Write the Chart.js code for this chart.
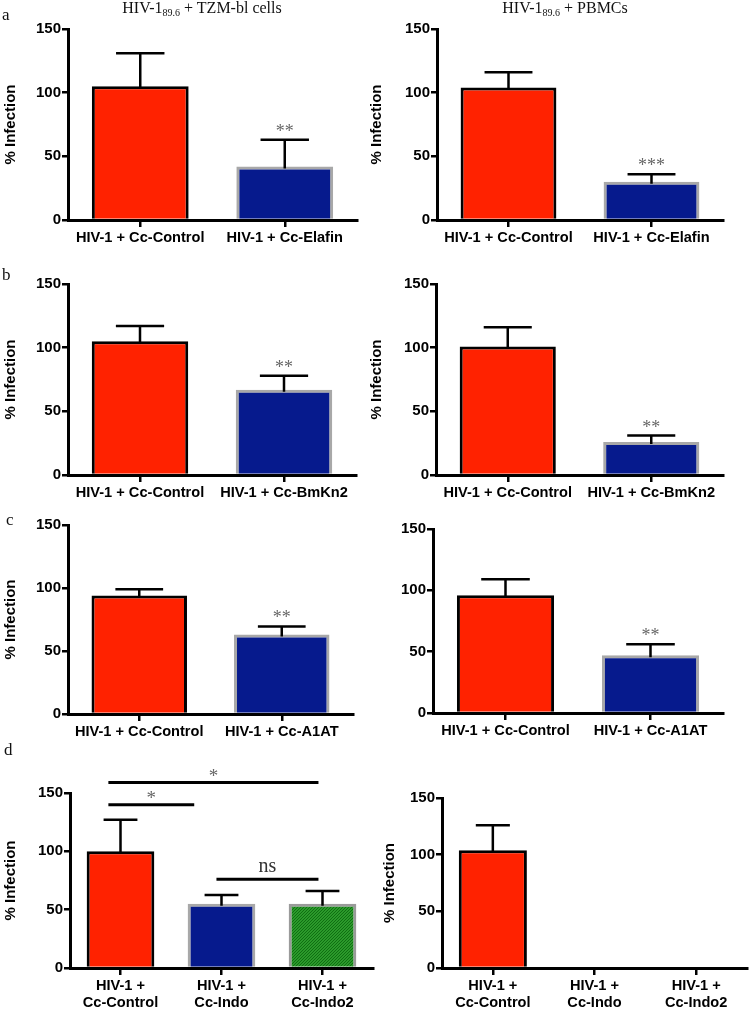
<!DOCTYPE html>
<html>
<head>
<meta charset="utf-8">
<script src="https://cdn.jsdelivr.net/npm/chart.js@4.4.0/dist/chart.umd.min.js"></script>
<style>
  html, body { margin: 0; padding: 0; background: #fff; }
  #page { position: relative; width: 750px; height: 1011px; overflow: hidden; }
  #page canvas { position: absolute; }
  .hdr {
    position: absolute; top: 0; transform: translateX(-50%);
    font-family: "Liberation Serif", "Times New Roman", serif;
    font-size: 16px; line-height: 16px; white-space: nowrap; color: #111; z-index: 2;
  }
  .hdr sub { font-size: 10px; vertical-align: -3px; line-height: 0; }
  .letter {
    position: absolute; font-family: "Liberation Serif", "Times New Roman", serif;
    font-size: 17px; line-height: 17px; color: #111; z-index: 2;
  }
</style>
</head>
<body>
<div id="page">
  <div class="hdr" style="left:202px">HIV-1<sub>89.6</sub> + TZM-bl cells</div>
  <div class="hdr" style="left:565px">HIV-1<sub>89.6</sub> + PBMCs</div>
  <div class="letter" style="left:2px;top:6px">a</div>
  <div class="letter" style="left:2px;top:266px">b</div>
  <div class="letter" style="left:6px;top:511px">c</div>
  <div class="letter" style="left:4px;top:741px">d</div>
</div>
<script>
// ---- data ----
const labelsA = ["HIV-1 + Cc-Control", "HIV-1 + Cc-Elafin"];
const labelsB = ["HIV-1 + Cc-Control", "HIV-1 + Cc-BmKn2"];
const labelsC = ["HIV-1 + Cc-Control", "HIV-1 + Cc-A1AT"];
const labelsD = [["HIV-1 +", "Cc-Control"], ["HIV-1 +", "Cc-Indo"], ["HIV-1 +", "Cc-Indo2"]];
const yTicks = [0, 50, 100, 150];

const meanATzm = [105, 42];
const semATzm = [26, 21];
const starsATzm = [null, "**"];
const meanAPbmc = [104, 30];
const semAPbmc = [12, 6];
const starsAPbmc = [null, "***"];

const meanBTzm = [105, 67];
const semBTzm = [12, 11];
const starsBTzm = [null, "**"];
const meanBPbmc = [101, 26];
const semBPbmc = [15, 5];
const starsBPbmc = [null, "**"];

const meanCTzm = [94, 63];
const semCTzm = [5, 6.5];
const starsCTzm = [null, "**"];
const meanCPbmc = [96, 47];
const semCPbmc = [13, 9];
const starsCPbmc = [null, "**"];

const meanDTzm = [100, 55, 55];
const semDTzm = [27, 7.5, 11];
const meanDPbmc = [104, null, null];
const semDPbmc = [22, null, null];

// significance brackets for panel d (category index span, value, text)
const sigFrom = [-0.12, -0.12, 0.95];
const sigTo = [0.73, 1.96, 1.96];
const sigValue = [140, 159, 76];
const sigText = ["*", "*", "ns"];

// ---- styles ----
const SANS = '"Liberation Sans", Arial, sans-serif';
const SERIF = '"Liberation Serif", "Times New Roman", serif';
const RED = "#ff2200";
const BLUE = "#061a8d";

function greenPattern() {
  const c = document.createElement("canvas");
  c.width = 3; c.height = 3;
  const g = c.getContext("2d");
  g.fillStyle = "#2b9a2b";
  g.fillRect(0, 0, 3, 3);
  g.fillStyle = "#0f6e12";
  g.fillRect(0, 0, 1, 1);
  g.fillRect(2, 1, 1, 1);
  g.fillRect(1, 2, 1, 1);
  return g.createPattern(c, "repeat");
}

const fills3 = [RED, BLUE, greenPattern()];
const edges3 = ["#000", "#a8a8a8", "#9a9a9a"];

function makeErrorPlugin(sem, stars, sig) {
  return {
    id: "errBars",
    afterDatasetsDraw(chart) {
      const { ctx, scales: { x, y } } = chart;
      const meta = chart.getDatasetMeta(0);
      const data = chart.data.datasets[0].data;
      ctx.save();
      ctx.strokeStyle = "#000";
      ctx.lineWidth = 2.5;
      sem.forEach((s, i) => {
        const m = data[i];
        if (m == null || s == null) return;
        const xc = x.getPixelForValue(i);
        const y0 = y.getPixelForValue(m);
        const y1 = y.getPixelForValue(m + s);
        const half = meta.data[i].width * 0.25;
        ctx.beginPath();
        ctx.moveTo(xc, y0 + 2);
        ctx.lineTo(xc, y1);
        ctx.moveTo(xc - half, y1);
        ctx.lineTo(xc + half, y1);
        ctx.stroke();
        if (stars && stars[i]) {
          ctx.fillStyle = "#666";
          ctx.font = "18px " + SERIF;
          ctx.textAlign = "center";
          ctx.textBaseline = "alphabetic";
          ctx.fillText(stars[i], xc, y1 - 3);
        }
      });
      if (sig) {
        sig.value.forEach((v, k) => {
          const xa = x.getPixelForValue(sig.from[k]);
          const xb = x.getPixelForValue(sig.to[k]);
          const yy = y.getPixelForValue(v);
          ctx.lineWidth = 3;
          ctx.beginPath();
          ctx.moveTo(xa, yy);
          ctx.lineTo(xb, yy);
          ctx.stroke();
          const t = sig.text[k];
          ctx.textAlign = "center";
          ctx.textBaseline = "alphabetic";
          if (t === "ns") {
            ctx.fillStyle = "#333";
            ctx.font = "20px " + SERIF;
            ctx.fillText(t, (xa + xb) / 2, yy - 7);
          } else {
            ctx.fillStyle = "#666";
            ctx.font = "19px " + SERIF;
            ctx.fillText(t, (xa + xb) / 2, yy - 1);
          }
        });
      }
      ctx.restore();
    }
  };
}

function makePanel(g, labels, means, sem, stars, sig, showTitle) {
  const page = document.getElementById("page");
  const cv = document.createElement("canvas");
  const W = g.cw;
  const H = g.cb - g.ct;
  cv.width = W; cv.height = H;
  cv.style.left = g.cl + "px";
  cv.style.top = g.ct + "px";
  cv.style.width = W + "px";
  cv.style.height = H + "px";
  page.appendChild(cv);

  const n = labels.length;
  const xFont = { family: SANS, size: 14.6, weight: "bold" };
  const yFont = { family: SANS, size: 15, weight: "bold" };

  new Chart(cv, {
    type: "bar",
    data: {
      labels: labels,
      datasets: [{
        data: means,
        backgroundColor: fills3.slice(0, n),
        borderColor: edges3.slice(0, n),
        borderWidth: 3,
        borderSkipped: "start",
        barPercentage: 0.67,
        categoryPercentage: 1
      }]
    },
    options: {
      responsive: false,
      animation: false,
      devicePixelRatio: 1,
      layout: {
        padding: { top: g.top150 - g.ct, right: g.cl + W - g.right, left: 0, bottom: 0 }
      },
      plugins: { legend: { display: false }, tooltip: { enabled: false } },
      scales: {
        x: {
          z: 1,
          offset: true,
          grid: { offset: false, drawOnChartArea: false, drawTicks: true, tickLength: 7, color: "#000", lineWidth: 2.5 },
          border: { display: true, color: "#000", width: 3 },
          ticks: { color: "#000", font: xFont, padding: 2, maxRotation: 0, autoSkip: false },
          afterFit: (s) => { s.height = g.cb - g.zero; }
        },
        y: {
          z: 1,
          min: 0,
          max: 150,
          afterBuildTicks: (s) => { s.ticks = yTicks.map((v) => ({ value: v })); },
          grid: { drawOnChartArea: false, drawTicks: true, tickLength: 6, color: "#000", lineWidth: 2.5 },
          border: { display: true, color: "#000", width: 3 },
          ticks: { color: "#000", font: yFont, padding: 1 },
          title: {
            display: showTitle,
            text: "% Infection",
            color: "#000",
            font: { family: SANS, size: 15, weight: "bold" },
            padding: { top: 2, bottom: 0 }
          },
          afterFit: (s) => { s.width = g.axisX - g.cl; }
        }
      }
    },
    plugins: [makeErrorPlugin(sem, stars, sig)]
  });
}

// ---- layout (pixel geometry of each panel) ----
makePanel({ cl: 0, cw: 375, ct: 0, cb: 250, axisX: 68, top150: 29, zero: 220, right: 357 },
  labelsA, meanATzm, semATzm, starsATzm, null, true);
makePanel({ cl: 366, cw: 384, ct: 0, cb: 250, axisX: 437, top150: 29, zero: 220, right: 723 },
  labelsA, meanAPbmc, semAPbmc, starsAPbmc, null, true);

makePanel({ cl: 0, cw: 375, ct: 244, cb: 505, axisX: 68, top150: 284, zero: 475, right: 356 },
  labelsB, meanBTzm, semBTzm, starsBTzm, null, true);
makePanel({ cl: 366, cw: 384, ct: 244, cb: 505, axisX: 436, top150: 284, zero: 475, right: 723 },
  labelsB, meanBPbmc, semBPbmc, starsBPbmc, null, true);

makePanel({ cl: 0, cw: 375, ct: 485, cb: 745, axisX: 68, top150: 525, zero: 714, right: 353 },
  labelsC, meanCTzm, semCTzm, starsCTzm, null, true);
makePanel({ cl: 366, cw: 384, ct: 485, cb: 745, axisX: 433, top150: 529, zero: 713, right: 723 },
  labelsC, meanCPbmc, semCPbmc, starsCPbmc, null, false);

makePanel({ cl: 0, cw: 375, ct: 745, cb: 1011, axisX: 70, top150: 793, zero: 968, right: 373 },
  labelsD, meanDTzm, semDTzm, null, { from: sigFrom, to: sigTo, value: sigValue, text: sigText }, true);
makePanel({ cl: 379, cw: 371, ct: 745, cb: 1011, axisX: 442, top150: 798, zero: 968, right: 747 },
  labelsD, meanDPbmc, semDPbmc, null, null, true);
</script>
</body>
</html>
